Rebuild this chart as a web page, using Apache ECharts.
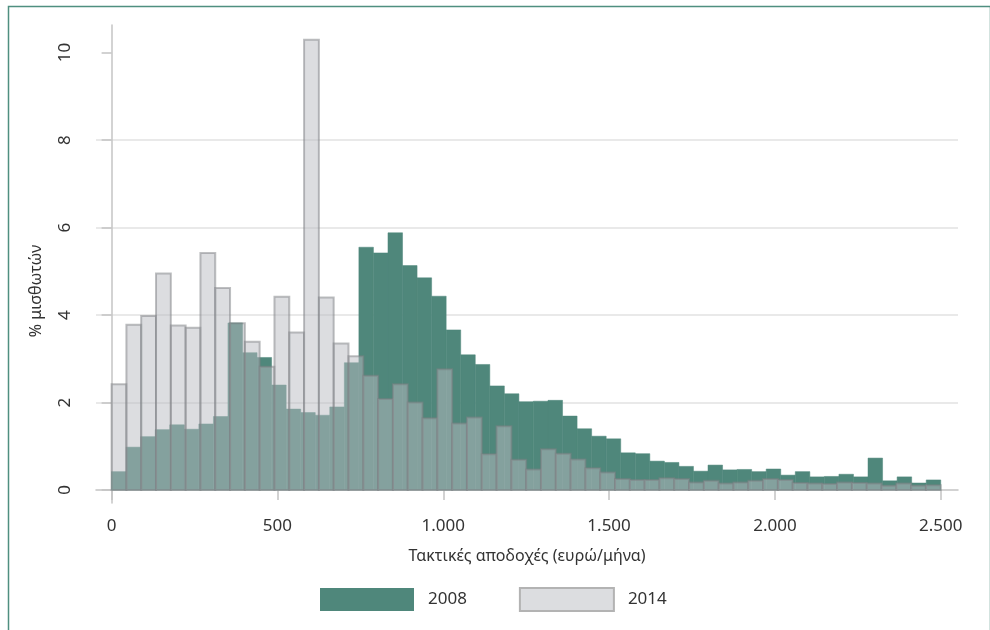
<!DOCTYPE html>
<html><head><meta charset="utf-8">
<script src="https://cdn.jsdelivr.net/npm/echarts@6/dist/echarts.min.js"></script>
<style>html,body{margin:0;padding:0;background:#fff}#c{width:990px;height:630px}</style>
</head><body><div id="c"></div>
<script>
// Histogram bin layout (euro range and number of bins per year)
const binMin = 0, binMax = 2500;
const bins2008 = 57;
const bins2014 = 56;
// % of employees per bin
const pct2008 = [0.42,0.98,1.22,1.38,1.49,1.39,1.51,1.68,3.82,3.14,
                 3.03,2.40,1.85,1.77,1.71,1.90,2.91,5.55,5.42,5.88,
                 5.13,4.85,4.43,3.66,3.09,2.87,2.38,2.20,2.02,2.03,
                 2.05,1.69,1.40,1.23,1.17,0.85,0.83,0.66,0.63,0.54,
                 0.43,0.57,0.46,0.47,0.42,0.48,0.34,0.42,0.30,0.31,
                 0.36,0.30,0.73,0.21,0.30,0.16,0.23];
const pct2014 = [2.42,3.78,3.98,4.95,3.76,3.71,5.42,4.62,3.81,3.39,
                 2.82,4.42,3.60,10.29,4.40,3.35,3.06,2.61,2.08,2.42,
                 2.00,1.64,2.76,1.52,1.66,0.82,1.46,0.69,0.47,0.93,
                 0.83,0.70,0.50,0.40,0.25,0.23,0.23,0.27,0.25,0.17,
                 0.21,0.15,0.17,0.21,0.25,0.23,0.16,0.15,0.14,0.17,
                 0.16,0.15,0.10,0.15,0.10,0.11];
const xTicks = [0,500,1000,1500,2000,2500];
const yTicks = [0,2,4,6,8,10];
const seriesNames = ['2008','2014'];
const xTitle = 'Τακτικές αποδοχές (ευρώ/μήνα)';
const yTitle = '% μισθωτών';

function toRects(vals, n){
  const w = (binMax - binMin) / n;
  return vals.map((v,i) => [binMin + i*w, binMin + (i+1)*w, v]);
}
const fmt = v => String(v).replace(/\B(?=(\d{3})+(?!\d))/g, '.');

const TEAL = '#4f877b';
function makeRender(style){
  return function(params, api){
    const p0 = api.coord([api.value(0), api.value(2)]);
    const p1 = api.coord([api.value(1), 0]);
    return {type:'rect', shape:{x:p0[0], y:p0[1], width:p1[0]-p0[0], height:p1[1]-p0[1]}, style: style};
  };
}

const FONT = 'Noto Sans';
const chart = echarts.init(document.getElementById('c'), null, {renderer:'canvas'});
chart.setOption({
  animation:false,
  backgroundColor:'#fff',
  textStyle:{fontFamily:FONT},
  graphic:[{type:'rect', left:6, top:4, shape:{x:0, y:0, width:982, height:640}, style:{fill:'none', stroke:'#4f8f80', lineWidth:1.5}, silent:true}],
  grid:{left:96, right:32, top:25, bottom:127},
  xAxis:{
    type:'value', min:-47, max:2552,
    name:xTitle, nameLocation:'middle', nameGap:45,
    nameTextStyle:{fontSize:16, color:'#333', fontFamily:FONT},
    axisLine:{show:true, lineStyle:{color:'#c4c4c4', width:1.5}},
    axisTick:{show:true, length:10, lineStyle:{color:'#c4c4c4', width:1.5}, customValues:xTicks},
    axisLabel:{fontSize:17, color:'#333', margin:15, formatter:fmt, customValues:xTicks},
    splitLine:{show:false}
  },
  yAxis:{
    type:'value', min:-0.297, max:10.63,
    name:yTitle, nameLocation:'middle', nameGap:52, nameRotate:90,
    nameTextStyle:{fontSize:16, color:'#333', fontFamily:FONT, padding:[0,54,0,0]},
    axisLine:{show:true, lineStyle:{color:'#c4c4c4', width:1.5}},
    axisTick:{show:true, length:10, lineStyle:{color:'#c4c4c4', width:1.5}, customValues:yTicks},
    axisLabel:{fontSize:17, color:'#333', rotate:90, margin:22, customValues:yTicks},
    splitLine:{show:true, lineStyle:{color:'#e2e2e2', width:1.5}, showMinLine:false, showMaxLine:false}
  },
  legend:{
    left:320, top:587, padding:0, itemWidth:94, itemHeight:23, itemGap:52, icon:'rect',
    textStyle:{fontSize:17, color:'#333', padding:[0,0,0,9], fontFamily:FONT},
    data:[{name:seriesNames[0], itemStyle:{color:TEAL}},
          {name:seriesNames[1], itemStyle:{color:'#dcdde0', borderColor:'#b3b3b3', borderWidth:2}}]
  },
  series:[
    {type:'custom', name:seriesNames[0], data:toRects(pct2008, bins2008), encode:{x:[0,1], y:2},
     itemStyle:{color:TEAL},
     renderItem:makeRender({fill:TEAL, stroke:TEAL, lineWidth:0.5})},
    {type:'custom', name:seriesNames[1], data:toRects(pct2014, bins2014), encode:{x:[0,1], y:2},
     itemStyle:{color:'#dcdde0'},
     renderItem:makeRender({fill:'rgba(185,187,193,0.5)', stroke:'rgba(125,127,132,0.5)', lineWidth:2})}
  ]
});
</script></body></html>
